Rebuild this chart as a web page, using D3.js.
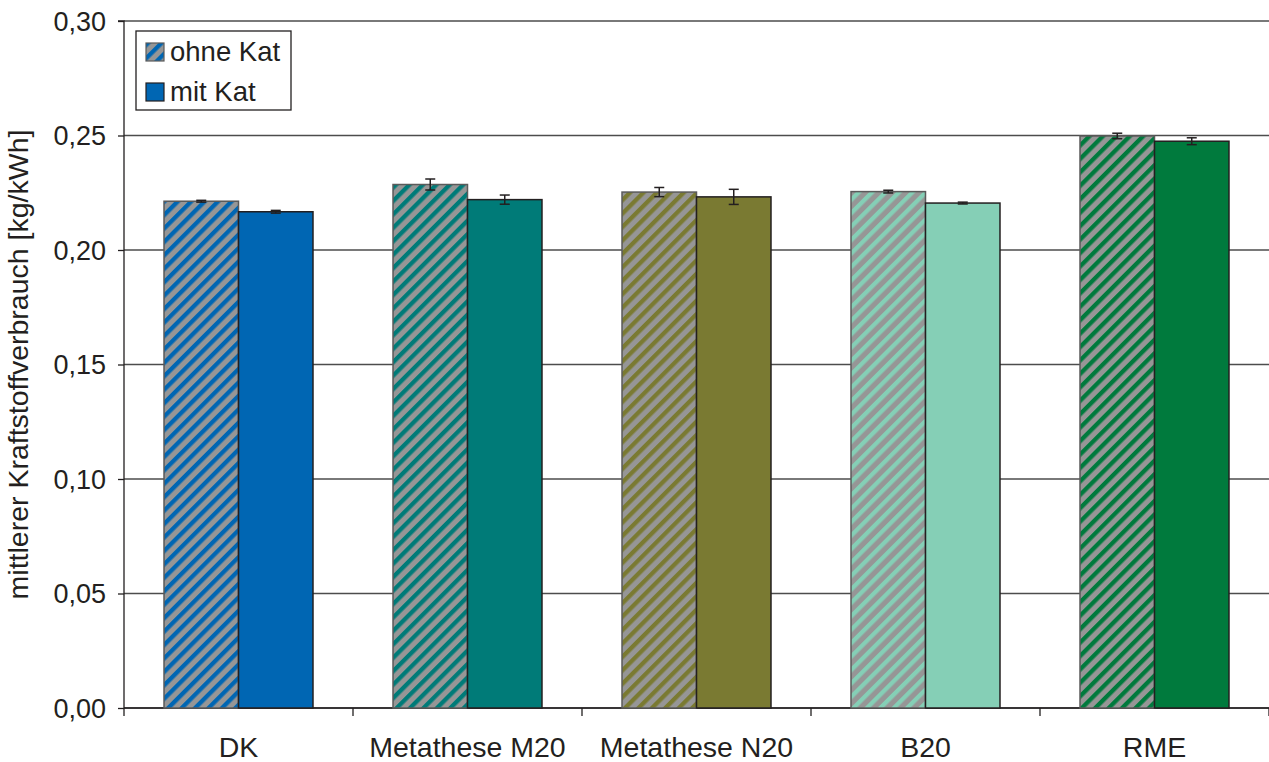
<!DOCTYPE html>
<html><head><meta charset="utf-8">
<script src="https://cdn.jsdelivr.net/npm/d3@7"></script>
<style>body{margin:0;background:#fff}svg{display:block}text{font-family:Arial,"Liberation Sans",sans-serif;fill:#231f20}</style>
</head><body><svg id="c" width="1269" height="762"></svg>
<script>
const categories = ["DK","Metathese M20","Metathese N20","B20","RME"];
const series = ["ohne Kat","mit Kat"];
const ohneKat = [0.2213, 0.2286, 0.2253, 0.2255, 0.2498];
const mitKat  = [0.2167, 0.2220, 0.2232, 0.2205, 0.2475];
const ohneErr = [0.0004, 0.0024, 0.0020, 0.0006, 0.0012];
const mitErr  = [0.0006, 0.0020, 0.0033, 0.0004, 0.0015];
const catColors = ["#0066b3","#007b78","#7a7a32","#85cfb6","#007a3d"];
const yTicks = [0,0.05,0.10,0.15,0.20,0.25,0.30];
const yLabel = "mittlerer Kraftstoffverbrauch [kg/kWh]";

const svg = d3.select("#c");
const M = {l:124, r:1269, t:21, b:708};
const x0 = d3.scaleBand().domain(categories).range([M.l, M.r]).paddingInner(0).paddingOuter(0);
const x1 = d3.scaleBand().domain(series).range([0, x0.bandwidth()]).paddingInner(0).paddingOuter(0.537);
const y = d3.scaleLinear().domain([0,0.30]).range([M.b, M.t]);

const P = 9.5, W = 4.3;
const defs = svg.append("defs");
catColors.forEach((c,i)=>{
  const p = defs.append("pattern").attr("id","h"+i).attr("patternUnits","userSpaceOnUse")
    .attr("width",P).attr("height",P).attr("patternTransform","rotate(45)");
  p.append("rect").attr("width",P).attr("height",P).attr("fill","#969696");
  p.append("rect").attr("width",W).attr("height",P).attr("fill",c);
});

// gridlines
svg.append("g").selectAll("line").data(yTicks).join("line")
  .attr("x1",M.l).attr("x2",M.r).attr("y1",d=>y(d)).attr("y2",d=>y(d))
  .attr("stroke","#4d4d4d").attr("stroke-width",1.3);

// y axis
const yAxis = d3.axisLeft(y).tickValues(yTicks).tickSize(6).tickPadding(12)
  .tickFormat(d=>d3.format(".2f")(d).replace(".",","));
const gy = svg.append("g").attr("transform",`translate(${M.l},0)`).call(yAxis);
gy.select(".domain").attr("stroke","#231f20").attr("stroke-width",1.3).attr("d",`M-6,${M.t}H0V${M.b}`);
gy.selectAll(".tick line").attr("stroke","#231f20").attr("stroke-width",1.3);
gy.selectAll(".tick text").attr("font-size",27).attr("font-family","Arial, Liberation Sans, sans-serif").attr("fill","#231f20").attr("dy","0.35em");

// x axis
const xAxis = d3.axisBottom(x0).tickSize(0).tickPadding(0);
const gx = svg.append("g").attr("transform",`translate(0,${M.b})`).call(xAxis);
gx.select(".domain").remove();
gx.selectAll(".tick text").attr("font-size",28.5).attr("font-family","Arial, Liberation Sans, sans-serif").attr("fill","#231f20").attr("y",49).attr("dy",0);
const bounds = categories.map(c=>x0(c)).concat([M.r]);
svg.append("g").selectAll("line").data(bounds).join("line")
  .attr("x1",d=>d).attr("x2",d=>d).attr("y1",M.b).attr("y2",M.b+8).attr("stroke","#231f20").attr("stroke-width",1.3);
svg.append("line").attr("x1",M.l).attr("x2",M.r).attr("y1",M.b).attr("y2",M.b).attr("stroke","#231f20").attr("stroke-width",1.3);

// bars
const rows = [];
categories.forEach((c,i)=>{
  rows.push({c,s:series[0],v:ohneKat[i],e:ohneErr[i],i});
  rows.push({c,s:series[1],v:mitKat[i],e:mitErr[i],i});
});
svg.append("g").selectAll("rect").data(rows).join("rect")
  .attr("x",d=>x0(d.c)+x1(d.s)).attr("width",x1.bandwidth())
  .attr("y",d=>y(d.v)).attr("height",d=>y(0)-y(d.v))
  .attr("fill",d=>d.s===series[0]?`url(#h${d.i})`:catColors[d.i])
  .attr("stroke",d=>d.s===series[0]?"#5a5a5a":"#231f20").attr("stroke-width",1.5);

// error bars
const eg = svg.append("g").attr("stroke","#231f20").attr("stroke-width",1.5);
rows.forEach(d=>{
  const cx = x0(d.c)+x1(d.s)+x1.bandwidth()/2;
  eg.append("line").attr("x1",cx).attr("x2",cx).attr("y1",y(d.v+d.e)).attr("y2",y(d.v-d.e));
  [d.v+d.e,d.v-d.e].forEach(v=>eg.append("line").attr("x1",cx-5).attr("x2",cx+5).attr("y1",y(v)).attr("y2",y(v)));
});

// y label
svg.append("text").attr("transform",`translate(28,${(M.t+M.b)/2}) rotate(-90)`)
  .attr("text-anchor","middle").attr("font-size",28.5).text(yLabel);

// legend
const lg = svg.append("g");
lg.append("rect").attr("x",136).attr("y",31).attr("width",155).attr("height",79)
  .attr("fill","#fff").attr("stroke","#231f20").attr("stroke-width",1.3);
series.forEach((s,k)=>{
  const yy = 43 + k*40;
  lg.append("rect").attr("x",146).attr("y",yy).attr("width",18).attr("height",18)
    .attr("fill",k===0?"url(#h0)":catColors[0]).attr("stroke",k===0?"#5a5a5a":"#231f20").attr("stroke-width",1.2);
  lg.append("text").attr("x",170).attr("y",yy+18).attr("font-size",27.5).text(s);
});
</script></body></html>
